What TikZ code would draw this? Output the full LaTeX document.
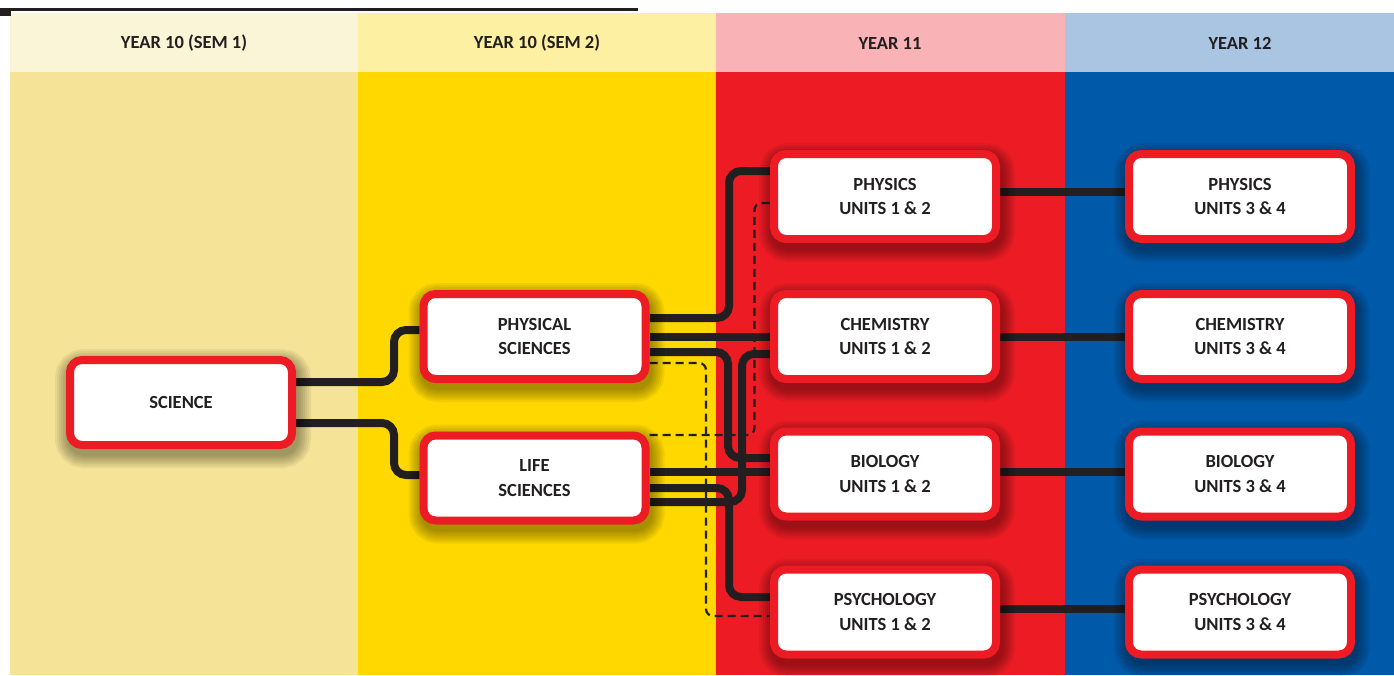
\documentclass[tikz,border=0pt]{standalone}
\usepackage{fontspec}
\setmainfont{Carlito}
\usetikzlibrary{calc}
\definecolor{hdA}{HTML}{FBF5D8}
\definecolor{hdB}{HTML}{FEF0A2}
\definecolor{hdC}{HTML}{F9B2B5}
\definecolor{hdD}{HTML}{A9C5E1}
\definecolor{bdA}{HTML}{F5E497}
\definecolor{bdB}{HTML}{FFD800}
\definecolor{bdC}{HTML}{ED1C24}
\definecolor{bdD}{HTML}{0059A9}
\definecolor{boxred}{HTML}{ED1C24}
\definecolor{ink}{HTML}{231F20}
\pgfdeclarelayer{bg}
\pgfdeclarelayer{lines}
\pgfsetlayers{bg,lines,main}
\begin{document}
\begin{tikzpicture}[x=1pt,y=-1pt,
  lbl/.style={font=\bfseries\fontsize{18.5}{24.5}\selectfont, text=ink, align=center, inner sep=0pt},
  shd/.style={preaction={draw=black, fill=none, line width=#1, opacity=0.055,
      transform canvas={xshift=2pt,yshift=-6pt}}},
  box/.style={lbl, draw=boxred, line width=8pt, fill=white, rounded corners=12pt,
    minimum width=222pt, minimum height=85pt,
    shd=34pt, shd=30pt, shd=26pt, shd=22pt, shd=18pt, shd=14pt, shd=10pt},
  conn/.style={draw=ink, line width=8pt, rounded corners=12pt},
  dconn/.style={draw=ink, line width=2.2pt, dash pattern=on 8pt off 5pt, rounded corners=7pt}]
\useasboundingbox (0,0) rectangle (1394,675);
\begin{pgfonlayer}{bg}
  \fill[white] (0,0) rectangle (1394,675);
  \fill[hdA] (10,13) rectangle (358,72);
  \fill[hdB] (358,13) rectangle (716,72);
  \fill[hdC] (716,13) rectangle (1065,72);
  \fill[hdD] (1065,13) rectangle (1394,72);
  \fill[bdA] (10,72) rectangle (358,675);
  \fill[bdB] (358,72) rectangle (716,675);
  \fill[bdC] (716,72) rectangle (1065,675);
  \fill[bdD] (1065,72) rectangle (1394,675);
  \draw[ink, line width=2.5pt] (0,9.5) -- (638,9.5);
  \fill[ink] (0,11) rectangle (11,16);
\end{pgfonlayer}
% headers
\node[lbl] (h1) at (184,43) {YEAR 10 (SEM 1)};
\node[lbl] (h2) at (537,43) {YEAR 10 (SEM 2)};
\node[lbl] (h3) at (890,43) {YEAR 11};
\node[lbl] (h4) at (1240,43) {YEAR 12};
% boxes
\node[box] (sci) at (181,402.5) {SCIENCE};
\node[box] (ps) at (534.5,336.5) {PHYSICAL\\SCIENCES};
\node[box] (ls) at (534.5,478) {LIFE\\SCIENCES};
\node[box] (p11) at (885,196.5) {PHYSICS\\UNITS 1 \& 2};
\node[box] (c11) at (885,336.5) {CHEMISTRY\\UNITS 1 \& 2};
\node[box] (b11) at (885,474) {BIOLOGY\\UNITS 1 \& 2};
\node[box] (y11) at (885,612) {PSYCHOLOGY\\UNITS 1 \& 2};
\node[box] (p12) at (1240,196.5) {PHYSICS\\UNITS 3 \& 4};
\node[box] (c12) at (1240,336.5) {CHEMISTRY\\UNITS 3 \& 4};
\node[box] (b12) at (1240,474) {BIOLOGY\\UNITS 3 \& 4};
\node[box] (y12) at (1240,612) {PSYCHOLOGY\\UNITS 3 \& 4};
% connectors
\begin{pgfonlayer}{lines}
  \draw[conn] ($(sci.east)+(0,-20.5)$) -- ++(98,0) |- ($(ps.west)+(0,-6.5)$);
  \draw[conn] ($(sci.east)+(0,20.5)$) -- ++(98,0) |- ($(ls.west)+(0,-3)$);
  \draw[conn] ($(ps.east)+(0,-18.5)$) -- ++(79.5,0) |- ($(p11.west)+(0,-25.5)$);
  \draw[conn] (ps.east) -- (c11.west);
  \draw[conn] ($(ps.east)+(0,15.5)$) -- ++(78.5,0) |- ($(b11.west)+(0,-16)$);
  \draw[conn] ($(ls.east)+(0,-6)$) -- ($(b11.west)+(0,-2)$);
  \draw[conn] ($(ls.east)+(0,10)$) -- ++(79.5,0) |- ($(y11.west)+(0,-15)$);
  \draw[conn] ($(ls.east)+(0,24)$) -- ++(92.5,0) |- ($(c11.west)+(0,17.5)$);
  \draw[dconn] ($(ls.east)+(0,-43)$) -- ++(105,0) |- ($(p11.west)+(0,6.5)$);
  \draw[dconn] ($(ps.east)+(0,26.5)$) -- ++(56.5,0) |- ($(y11.west)+(0,4)$);
  \draw[conn] ($(p11.east)+(0,-4.5)$) -- ($(p12.west)+(0,-4.5)$);
  \draw[conn] (c11.east) -- (c12.west);
  \draw[conn] ($(b11.east)+(0,-2)$) -- ($(b12.west)+(0,-2)$);
  \draw[conn] ($(y11.east)+(0,-3)$) -- ($(y12.west)+(0,-3)$);
\end{pgfonlayer}
\end{tikzpicture}
\end{document}
